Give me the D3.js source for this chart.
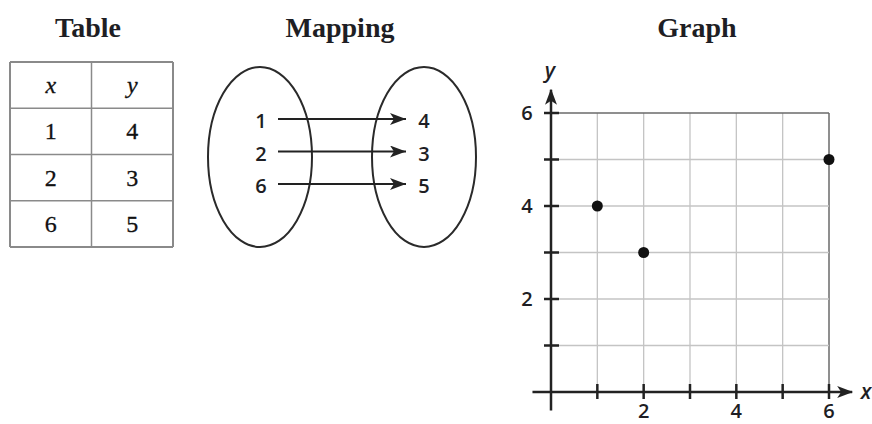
<!DOCTYPE html>
<html>
<head>
<meta charset="utf-8">
<script src="https://cdn.jsdelivr.net/npm/d3@7"></script>
<style>
  body { margin: 0; background: #fff; }
  svg { display: block; }
</style>
</head>
<body>
<div id="chart"></div>
<script>
// the relation
const xValues = [1, 2, 6]
const yValues = [4, 3, 5]
const headers = ['x', 'y']
const xTickLabels = [2, 4, 6]
const yTickLabels = [2, 4, 6]
const titles = ['Table', 'Mapping', 'Graph']

const width = 872
const height = 424
const ink = '#1e1e24'

const svg = d3.select('#chart').append('svg')
    .attr('width', width)
    .attr('height', height)

// titles
const titleX = [88, 340, 697]
svg.selectAll('.title')
    .data(titles)
    .enter()
    .append('text')
    .attr('class', 'title')
    .attr('x', (d, i) => titleX[i])
    .attr('y', 37)
    .attr('text-anchor', 'middle')
    .attr('font-family', 'Liberation Serif, serif')
    .attr('font-weight', 'bold')
    .attr('font-size', '28px')
    .attr('fill', ink)
    .text(d => d)

// ---------- table ----------
const rows = [{ x: headers[0], y: headers[1], head: true }]
for (let i = 0; i < xValues.length; i++) {
    rows.push({ x: xValues[i], y: yValues[i], head: false })
}
const colScale = d3.scaleBand().domain(headers).range([10, 173])
const rowScale = d3.scaleBand().domain(d3.range(rows.length)).range([62, 247])

const table = svg.append('g')
table.selectAll('.hline')
    .data(d3.range(rows.length + 1))
    .enter()
    .append('line')
    .attr('x1', 10)
    .attr('x2', 173)
    .attr('y1', d => 62 + d * rowScale.step())
    .attr('y2', d => 62 + d * rowScale.step())
    .attr('stroke', '#8a8a8a')
    .attr('stroke-width', d => (d === 0 || d === rows.length) ? 2 : 1.5)
table.selectAll('.vline')
    .data(d3.range(headers.length + 1))
    .enter()
    .append('line')
    .attr('x1', d => 10 + d * colScale.step())
    .attr('x2', d => 10 + d * colScale.step())
    .attr('y1', 62)
    .attr('y2', 247)
    .attr('stroke', '#8a8a8a')
    .attr('stroke-width', d => (d === 0 || d === headers.length) ? 2 : 1.5)

rows.forEach((r, i) => {
    headers.forEach(h => {
        table.append('text')
            .attr('x', colScale(h) + colScale.bandwidth() / 2)
            .attr('y', rowScale(i) + rowScale.bandwidth() / 2 + 8)
            .attr('text-anchor', 'middle')
            .attr('font-family', '"Liberation Serif", "DejaVu Serif", serif')
            .attr('font-style', r.head ? 'italic' : 'normal')
            .attr('font-size', '24px')
            .attr('fill', '#111')
            .attr('stroke', '#111')
            .attr('stroke-width', 0.3)
            .text(r[h])
    })
})

// ---------- mapping ----------
const defs = svg.append('defs')
defs.append('marker')
    .attr('id', 'head')
    .attr('viewBox', '0 0 16 12')
    .attr('refX', 16)
    .attr('refY', 6)
    .attr('markerWidth', 16)
    .attr('markerHeight', 12)
    .attr('markerUnits', 'userSpaceOnUse')
    .attr('orient', 'auto')
    .append('path')
    .attr('d', 'M0,0 L16,6 L0,12 L4,6 Z')
    .attr('fill', '#222')

const mapY = d3.scalePoint().domain(d3.range(xValues.length)).range([121, 186])
const mapping = svg.append('g')
mapping.selectAll('ellipse')
    .data([260, 424])
    .enter()
    .append('ellipse')
    .attr('cx', d => d)
    .attr('cy', 157)
    .attr('rx', 52)
    .attr('ry', 90)
    .attr('fill', 'none')
    .attr('stroke', '#2a2a2a')
    .attr('stroke-width', 2)

mapping.selectAll('.arrow')
    .data(xValues)
    .enter()
    .append('line')
    .attr('x1', 278)
    .attr('x2', 406)
    .attr('y1', (d, i) => mapY(i) - 2)
    .attr('y2', (d, i) => mapY(i) - 2)
    .attr('stroke', '#222')
    .attr('stroke-width', 2.2)
    .attr('marker-end', 'url(#head)')

mapping.selectAll('.left')
    .data(xValues)
    .enter()
    .append('text')
    .attr('x', 261)
    .attr('y', (d, i) => mapY(i) + 7)
    .attr('text-anchor', 'middle')
    .attr('font-family', 'Open Sans, sans-serif')
    .attr('font-weight', 600)
    .attr('font-size', '20px')
    .attr('fill', ink)
    .text(d => d)

mapping.selectAll('.right')
    .data(yValues)
    .enter()
    .append('text')
    .attr('x', 424)
    .attr('y', (d, i) => mapY(i) + 7)
    .attr('text-anchor', 'middle')
    .attr('font-family', 'Open Sans, sans-serif')
    .attr('font-weight', 600)
    .attr('font-size', '20px')
    .attr('fill', ink)
    .text(d => d)

// ---------- graph ----------
const x = d3.scaleLinear().domain([0, 6]).range([551, 829])
const y = d3.scaleLinear().domain([0, 6]).range([392, 113])
const graph = svg.append('g')
const units = d3.range(1, 7)

graph.selectAll('.vgrid')
    .data(units)
    .enter()
    .append('line')
    .attr('x1', d => x(d))
    .attr('x2', d => x(d))
    .attr('y1', y(0))
    .attr('y2', y(6))
    .attr('stroke', d => d === 6 ? '#6a6a6a' : '#c4c4c4')
    .attr('stroke-width', d => d === 6 ? 1.5 : 1.3)
graph.selectAll('.hgrid')
    .data(units)
    .enter()
    .append('line')
    .attr('x1', x(0))
    .attr('x2', x(6))
    .attr('y1', d => y(d))
    .attr('y2', d => y(d))
    .attr('stroke', d => d === 6 ? '#6a6a6a' : '#c4c4c4')
    .attr('stroke-width', d => d === 6 ? 1.5 : 1.3)

// axes with arrows
defs.append('marker')
    .attr('id', 'axisHead')
    .attr('viewBox', '0 0 16 12')
    .attr('refX', 15)
    .attr('refY', 6)
    .attr('markerWidth', 16)
    .attr('markerHeight', 12)
    .attr('markerUnits', 'userSpaceOnUse')
    .attr('orient', 'auto')
    .append('path')
    .attr('d', 'M0,0 L16,6 L0,12 L4,6 Z')
    .attr('fill', '#222')

graph.append('line')
    .attr('x1', x(-0.4))
    .attr('x2', x(6.5))
    .attr('y1', y(0))
    .attr('y2', y(0))
    .attr('stroke', '#222')
    .attr('stroke-width', 2.5)
    .attr('marker-end', 'url(#axisHead)')
graph.append('line')
    .attr('x1', x(0))
    .attr('x2', x(0))
    .attr('y1', y(-0.4))
    .attr('y2', y(6.5))
    .attr('stroke', '#222')
    .attr('stroke-width', 2.5)
    .attr('marker-end', 'url(#axisHead)')

graph.selectAll('.xtick')
    .data(units)
    .enter()
    .append('line')
    .attr('x1', d => x(d))
    .attr('x2', d => x(d))
    .attr('y1', y(0) - 8)
    .attr('y2', y(0) + 7)
    .attr('stroke', '#222')
    .attr('stroke-width', 2.5)
graph.selectAll('.ytick')
    .data(units)
    .enter()
    .append('line')
    .attr('x1', x(0) - 7)
    .attr('x2', x(0) + 8)
    .attr('y1', d => y(d))
    .attr('y2', d => y(d))
    .attr('stroke', '#222')
    .attr('stroke-width', 2.5)

graph.selectAll('.xlabel')
    .data(xTickLabels)
    .enter()
    .append('text')
    .attr('x', d => x(d))
    .attr('y', 418)
    .attr('text-anchor', 'middle')
    .attr('font-family', 'Open Sans, sans-serif')
    .attr('font-weight', 600)
    .attr('font-size', '20px')
    .attr('fill', ink)
    .text(d => d)
graph.selectAll('.ylabel')
    .data(yTickLabels)
    .enter()
    .append('text')
    .attr('x', 527)
    .attr('y', d => y(d) + 7)
    .attr('text-anchor', 'middle')
    .attr('font-family', 'Open Sans, sans-serif')
    .attr('font-weight', 600)
    .attr('font-size', '20px')
    .attr('fill', ink)
    .text(d => d)

graph.append('text')
    .attr('x', 866)
    .attr('y', 399)
    .attr('text-anchor', 'middle')
    .attr('font-family', 'Open Sans, sans-serif')
    .attr('font-style', 'italic')
    .attr('font-weight', 600)
    .attr('font-size', '21px')
    .attr('fill', ink)
    .text('x')
graph.append('text')
    .attr('x', 550)
    .attr('y', 78)
    .attr('text-anchor', 'middle')
    .attr('font-family', 'Open Sans, sans-serif')
    .attr('font-style', 'italic')
    .attr('font-weight', 600)
    .attr('font-size', '21px')
    .attr('fill', ink)
    .text('y')

graph.selectAll('circle')
    .data(xValues)
    .enter()
    .append('circle')
    .attr('cx', d => x(d))
    .attr('cy', (d, i) => y(yValues[i]))
    .attr('r', 5.5)
    .attr('fill', '#111')
</script>
</body>
</html>
